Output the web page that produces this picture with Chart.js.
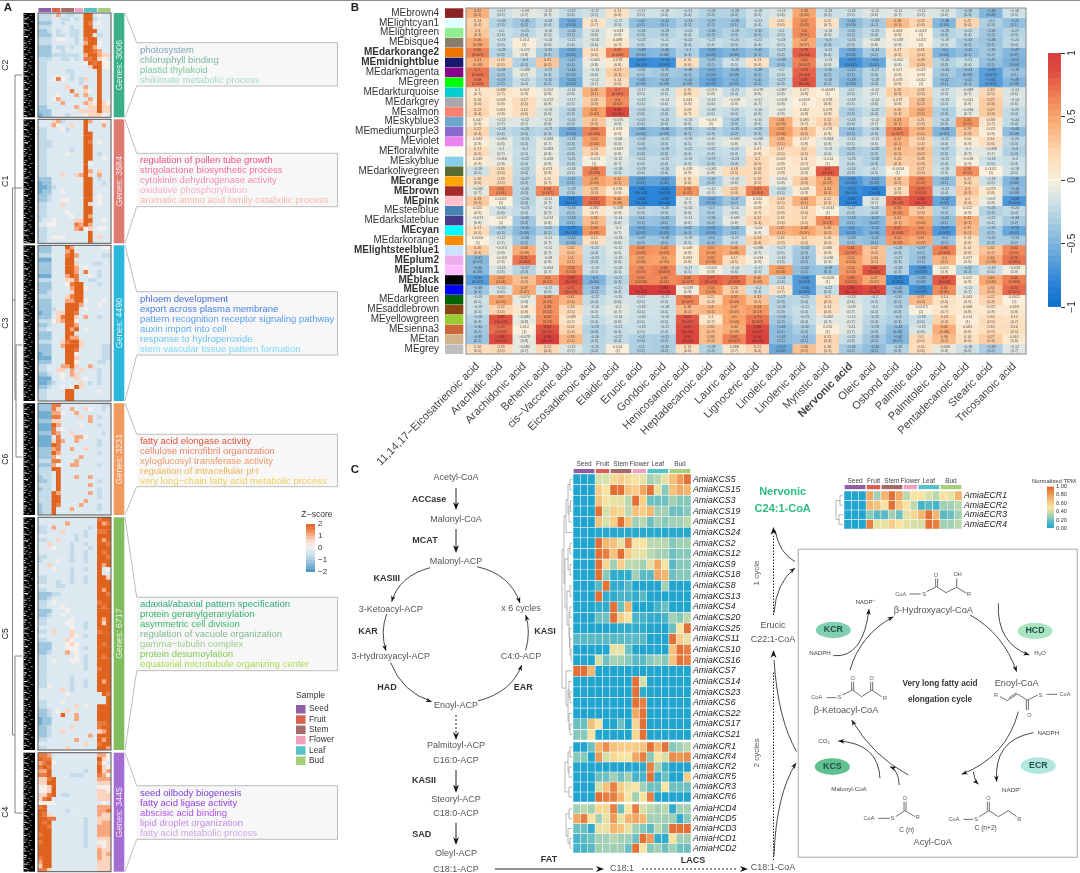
<!DOCTYPE html>
<html>
<head>
<meta charset="utf-8">
<title>Nervonic acid biosynthesis figure</title>
<script src="https://cdn.jsdelivr.net/npm/chart.js@4"></script>
<style>
  html, body { margin: 0; padding: 0; background: #fff; }
  #page { position: relative; width: 1080px; height: 873px; overflow: hidden; filter: blur(0.35px); }
  #page canvas { position: absolute; }
</style>
</head>
<body>
<div id="page"></div>
<script>
const FONT = "'Liberation Sans', Arial, sans-serif";

// ---- panel B data ----
const moduleNames = ["MEbrown4","MElightcyan1","MElightgreen","MEbisque4","MEdarkorange2","MEmidnightblue","MEdarkmagenta","MEgreen","MEdarkturquoise","MEdarkgrey","MEsalmon","MEskyblue3","MEmediumpurple3","MEviolet","MEfloralwhite","MEskyblue","MEdarkolivegreen","MEorange","MEbrown","MEpink","MEsteelblue","MEdarkslateblue","MEcyan","MEdarkorange","MElightsteelblue1","MEplum2","MEplum1","MEblack","MEblue","MEdarkgreen","MEsaddlebrown","MEyellowgreen","MEsienna3","MEtan","MEgrey"];
const moduleColors = ["#8b2323","#e0ffff","#90ee90","#8b7d6b","#ee7600","#191970","#8b008b","#00ff00","#00ced1","#a9a9a9","#fa8072","#6ca6cd","#8968cd","#ee82ee","#fffaf0","#87ceeb","#556b2f","#ffa500","#a52a2a","#ffc0cb","#4682b4","#483d8b","#00ffff","#ff8c00","#cae1ff","#eeaeee","#ffbbff","#000000","#0000ff","#006400","#8b4513","#9acd32","#cd6839","#d2b48c","#bebebe"];
const boldModules = ["MEdarkorange2","MEmidnightblue","MEorange","MEbrown","MEpink","MEcyan","MElightsteelblue1","MEplum2","MEplum1","MEblack","MEblue"];
const acidNames = ["11,14,17\u2212Eicosatrienoic acid","Arachidic acid","Arachidonic acid","Behenic acid","cis\u2212Vaccenic acid","Eicosadienoic acid","Elaidic acid","Erucic acid","Gondoic acid","Henicosanoic acid","Heptadecanoic acid","Lauric acid","Lignoceric acid","Linoleic acid","Linolenic acid","Myristic acid","Nervonic acid","Oleic acid","Osbond acid","Palmitic acid","Palmitoleic acid","Pentadecanoic acid","Stearic acid","Tricosanoic acid"];
const corrValues = [
  [0.42,-0.17,-0.09,-0.12,-0.22,-0.17,0.13,-0.17,-0.18,-0.21,-0.28,-0.28,-0.18,-0.13,0.48,-0.19,-0.18,-0.12,-0.11,-0.12,-0.13,-0.28,-0.48,-0.18],
  [0.24,-0.28,-0.36,-0.24,-0.55,0.11,-0.17,-0.42,-0.42,-0.33,-0.37,-0.38,-0.21,0.15,0.57,0.11,-0.44,-0.33,0.38,0.23,-0.48,0.22,-0.3,-0.41],
  [0.3,-0.2,-0.25,-0.16,-0.34,-0.13,-0.033,-0.28,-0.28,-0.23,-0.36,-0.28,-0.32,-0.2,0.6,-0.13,-0.31,-0.23,0.063,0.0023,-0.28,-0.22,-0.36,-0.27],
  [0.46,-0.19,0.014,-0.14,-0.21,-0.14,0.089,-0.23,-0.21,-0.24,-0.21,-0.25,-0.21,-0.18,0.47,-0.3,-0.26,-0.088,-0.039,0.013,-0.18,-0.33,-0.38,-0.24],
  [0.66,-0.28,-0.072,-0.32,-0.55,0.14,0.66,-0.48,-0.46,-0.3,-0.55,-0.5,-0.42,-0.27,0.78,-0.22,-0.54,-0.34,0.17,0.24,-0.5,-0.42,-0.36,-0.47],
  [0.43,0.19,-0.3,0.31,-0.42,-0.061,0.078,-0.76,-0.74,0.15,-0.37,-0.18,0.13,-0.38,0.65,-0.13,-0.72,-0.6,-0.052,0.28,-0.28,-0.21,-0.41,-0.51],
  [0.7,-0.33,-0.088,-0.27,-0.44,-0.13,0.27,-0.31,-0.35,-0.38,-0.52,-0.45,-0.39,-0.2,0.76,-0.35,-0.42,-0.27,0.027,0.019,-0.34,-0.43,-0.64,-0.39],
  [0.68,-0.37,-0.21,-0.31,-0.54,-0.12,0.14,-0.45,-0.43,-0.44,-0.58,-0.5,-0.41,-0.27,0.81,-0.33,-0.49,-0.28,0.079,0.012,-0.42,-0.41,-0.65,-0.48],
  [0.1,0.088,0.044,-0.052,-0.14,0.42,0.7,-0.17,-0.18,0.15,-0.074,-0.21,-0.079,-0.087,0.071,-0.00087,-0.2,-0.12,0.26,0.23,-0.17,-0.089,0.19,-0.13],
  [0.16,0.059,0.17,-0.072,-0.17,0.26,0.6,-0.19,-0.14,0.043,-0.13,-0.049,-0.11,-0.058,0.0059,0.078,-0.18,-0.14,0.079,0.33,-0.19,-0.041,0.27,-0.14],
  [0.22,0.061,0.15,-0.13,-0.26,0.51,0.86,-0.25,-0.24,0.09,-0.18,-0.21,-0.16,-0.07,0.062,0.079,-0.3,-0.22,0.26,0.42,-0.3,-0.094,0.27,-0.22],
  [0.047,-0.12,-0.12,-0.13,-0.25,0.3,-0.075,-0.25,-0.24,-0.15,-0.015,-0.28,-0.15,0.44,0.095,0.22,-0.23,-0.12,0.43,0.25,-0.26,0.56,0.092,-0.24],
  [0.22,-0.24,-0.28,-0.27,-0.55,0.64,0.019,-0.46,-0.44,-0.33,-0.28,-0.35,-0.28,0.52,0.31,0.078,-0.4,-0.26,0.64,0.39,-0.49,0.29,0.022,-0.44],
  [0.033,-0.084,-0.23,-0.084,-0.28,0.52,-0.08,-0.26,-0.25,-0.19,-0.15,-0.083,-0.096,0.36,0.057,-0.084,-0.18,-0.13,0.41,0.23,-0.22,0.04,0.14,-0.25],
  [0.17,-0.1,-0.2,-0.083,-0.27,0.23,-0.067,-0.29,-0.28,-0.22,-0.22,-0.21,0.07,0.17,0.2,-0.13,-0.31,-0.28,0.34,0.32,-0.27,-0.1,-0.098,-0.3],
  [0.039,-0.066,-0.22,-0.058,-0.25,-0.013,-0.12,-0.22,-0.23,-0.19,-0.27,-0.23,0.2,0.062,0.11,-0.014,-0.23,-0.28,0.26,0.28,-0.23,-0.018,-0.18,-0.2],
  [-0.18,0.16,-0.23,0.073,-0.18,0.64,-0.18,-0.23,-0.24,0.028,-0.081,0.18,0.18,0.071,0.049,0.8,-0.24,-0.2,-0.0054,0.27,-0.18,0.58,0.0012,-0.18],
  [0.16,0.19,-0.27,0.11,-0.42,0.49,0.42,-0.61,-0.61,0.15,-0.32,-0.13,0.19,-0.054,0.26,0.46,-0.68,-0.55,0.32,0.62,-0.42,0.22,-0.18,-0.48],
  [-0.092,0.61,-0.26,0.64,-0.29,0.29,0.076,-0.8,-0.81,0.56,-0.12,0.22,0.67,-0.19,0.049,0.43,-0.75,-0.8,0.16,0.73,-0.23,0.3,0.073,-0.44],
  [0.29,0.0022,-0.26,-0.11,-0.8,0.72,0.46,-0.82,-0.81,-0.1,-0.52,-0.37,0.024,0.19,0.43,0.22,-0.82,-0.12,0.75,0.84,-0.59,0.2,-0.07,-0.68],
  [0.025,-0.16,-0.23,-0.12,-0.33,0.092,-0.039,-0.25,-0.26,-0.14,-0.3,-0.15,0.09,0.15,0.18,-0.0043,-0.27,-0.25,0.56,0.29,-0.3,0.022,-0.28,-0.24],
  [-0.071,-0.007,-0.36,-0.074,-0.43,0.36,-0.14,-0.4,-0.41,-0.14,-0.34,-0.081,0.22,0.16,0.2,0.6,-0.43,-0.47,0.41,0.5,-0.42,0.42,-0.22,-0.34],
  [0.17,-0.29,-0.46,-0.32,-0.77,0.56,-0.1,-0.55,-0.55,-0.42,-0.55,-0.41,-0.04,0.42,0.48,0.36,-0.6,-0.52,0.67,0.6,-0.67,0.37,-0.33,-0.58],
  [0.0004,-0.12,-0.36,-0.11,-0.44,0.15,-0.13,-0.37,-0.38,-0.19,-0.4,-0.21,0.24,0.16,0.2,0.16,-0.39,-0.42,0.54,0.47,-0.4,0.13,-0.32,-0.33],
  [0.26,-0.074,0.44,-0.11,0.32,-0.21,-0.12,0.58,0.55,0.049,0.52,0.46,-0.098,-0.17,-0.34,0.086,0.64,0.32,-0.28,-0.37,0.66,0.14,0.32,0.62],
  [-0.47,-0.033,0.71,-0.08,0.4,-0.23,-0.15,0.52,0.5,0.063,0.55,0.17,-0.034,-0.16,-0.37,-0.036,0.51,0.34,-0.27,-0.39,0.4,0.027,0.44,0.71],
  [-0.46,-0.13,-0.27,-0.094,0.59,-0.19,-0.16,0.6,0.65,-0.17,-0.033,-0.14,-0.17,0.52,-0.42,-0.39,0.54,0.82,-0.29,-0.68,0.021,-0.32,-0.19,-0.033],
  [-0.65,0.52,0.34,0.6,0.83,-0.5,-0.27,0.63,0.62,0.65,0.77,0.72,0.46,-0.24,-0.66,-0.0028,0.66,0.47,-0.79,-0.48,0.8,0.022,0.46,0.66],
  [-0.38,-0.15,0.47,-0.17,0.75,-0.38,-0.21,1,0.99,-0.039,0.56,0.26,-0.2,0.11,-0.66,-0.22,0.96,0.87,-0.44,-0.73,0.61,-0.11,0.34,0.74],
  [-0.18,0.5,-0.074,0.58,0.41,-0.22,-0.15,-0.17,-0.17,0.64,0.21,0.52,0.33,-0.27,-0.25,0.2,-0.13,-0.2,-0.31,0.37,0.14,0.043,0.22,0.0022],
  [-0.19,0.22,0.08,0.58,0.19,-0.16,-0.1,-0.18,-0.18,0.38,0.4,0.47,0.54,-0.26,-0.21,0.14,-0.09,-0.2,-0.28,-0.0075,0.09,0.068,0.072,0.059],
  [-0.28,0.83,-0.083,0.62,0.099,-0.21,-0.14,-0.19,-0.19,0.81,0.1,0.5,0.71,-0.34,-0.23,-0.092,-0.12,-0.25,-0.3,-0.19,0.24,0.014,0.16,0.12],
  [-0.34,0.73,0.012,0.83,0.22,-0.29,-0.21,-0.19,-0.21,0.87,0.35,0.44,0.88,-0.43,-0.32,0.016,-0.11,-0.29,-0.44,-0.13,0.45,0.081,0.16,0.16],
  [-0.39,0.86,-0.079,0.96,0.39,-0.26,-0.22,-0.3,-0.31,0.91,0.36,0.65,0.94,-0.43,-0.4,0.21,-0.21,-0.36,-0.48,0.2,0.36,0.14,0.27,0.061],
  [0.16,0.19,-0.082,0.21,-0.12,-0.25,0.014,-0.3,-0.31,0.13,-0.28,0.088,0.21,-0.57,0.34,0.18,-0.34,-0.43,-0.28,0.16,-0.066,-0.18,-0.33,-0.12]
];
const corrPvals = [
  "0.1 0.5 0.7 0.7 0.4 0.5 0.6 0.5 0.5 0.4 0.3 0.3 0.5 0.6 0.05 0.5 0.5 0.6 0.7 0.7 0.6 0.3 0.06 0.5",
  "0.4 0.3 0.2 0.4 0.03 0.7 0.5 0.1 0.1 0.2 0.2 0.1 0.4 0.6 0.02 0.7 0.09 0.2 0.1 0.4 0.06 0.4 0.3 0.1",
  "0.3 0.4 0.4 0.5 0.2 0.6 0.9 0.3 0.3 0.4 0.2 0.3 0.2 0.5 0.01 0.6 0.2 0.4 0.8 1 0.3 0.4 0.2 0.3",
  "0.08 0.5 1 0.6 0.4 0.6 0.7 0.4 0.4 0.4 0.4 0.3 0.4 0.5 0.07 0.3 0.3 0.8 0.9 1 0.5 0.2 0.1 0.4",
  "0.005 0.3 0.8 0.2 0.02 0.6 0.004 0.06 0.06 0.3 0.02 0.05 0.1 0.3 4e-04 0.4 0.03 0.2 0.5 0.4 0.05 0.1 0.2 0.07",
  "0.08 0.5 0.3 0.2 0.1 0.8 0.8 7e-04 0.001 0.6 0.2 0.5 0.6 0.3 0.007 0.6 0.002 0.01 0.8 0.3 0.3 0.4 0.1 0.04",
  "0.003 0.2 0.7 0.3 0.09 0.6 0.3 0.2 0.2 0.1 0.04 0.09 0.1 0.4 7e-04 0.2 0.1 0.3 0.9 0.9 0.2 0.09 0.007 0.1",
  "0.003 0.2 0.4 0.2 0.03 0.7 0.6 0.08 0.09 0.09 0.02 0.05 0.1 0.3 9e-05 0.2 0.05 0.3 0.8 1 0.1 0.1 0.005 0.06",
  "0.7 0.7 0.9 0.8 0.6 0.1 0.002 0.5 0.5 0.6 0.8 0.4 0.8 0.8 0.8 1 0.5 0.7 0.3 0.4 0.5 0.7 0.5 0.6",
  "0.6 0.8 0.5 0.8 0.5 0.3 0.02 0.5 0.6 0.9 0.6 0.9 0.7 0.8 1 0.8 0.5 0.6 0.8 0.2 0.5 0.9 0.3 0.6",
  "0.4 0.8 0.6 0.6 0.3 0.04 3e-05 0.4 0.4 0.7 0.5 0.4 0.6 0.8 0.8 0.8 0.3 0.4 0.3 0.1 0.3 0.7 0.3 0.4",
  "0.9 0.7 0.7 0.6 0.3 0.3 0.8 0.4 0.4 0.6 1 0.3 0.6 0.09 0.7 0.4 0.4 0.7 0.1 0.3 0.3 0.02 0.7 0.4",
  "0.4 0.4 0.3 0.3 0.02 0.006 0.9 0.06 0.09 0.2 0.3 0.2 0.3 0.04 0.2 0.8 0.1 0.3 0.007 0.1 0.07 0.3 0.9 0.08",
  "0.9 0.8 0.4 0.7 0.3 0.04 0.8 0.3 0.3 0.5 0.6 0.8 0.7 0.1 0.8 0.8 0.5 0.6 0.1 0.4 0.4 0.9 0.6 0.3",
  "0.5 0.7 0.5 0.8 0.3 0.4 0.8 0.3 0.3 0.4 0.4 0.4 0.8 0.5 0.5 0.6 0.2 0.3 0.2 0.2 0.3 0.7 0.7 0.3",
  "0.9 0.8 0.4 0.8 0.3 1 0.7 0.4 0.4 0.5 0.3 0.4 0.5 0.8 0.7 1 0.4 0.3 0.3 0.3 0.4 0.9 0.5 0.4",
  "0.5 0.6 0.4 0.8 0.5 0.008 0.5 0.4 0.4 0.9 0.8 0.5 0.6 0.8 0.9 2e-04 0.4 0.5 1 0.3 0.5 0.02 1 0.5",
  "0.6 0.5 0.3 0.7 0.1 0.05 0.1 0.01 0.01 0.6 0.2 0.6 0.5 0.8 0.3 0.07 0.006 0.03 0.2 0.01 0.1 0.4 0.5 0.06",
  "0.7 0.01 0.3 0.007 0.3 0.3 0.8 2e-04 1e-04 0.02 0.7 0.4 0.004 0.5 0.9 0.1 9e-04 2e-04 0.5 0.001 0.4 0.3 0.8 0.09",
  "0.3 1 0.3 0.7 2e-04 0.002 0.08 1e-04 1e-04 0.7 0.04 0.2 0.9 0.5 0.1 0.4 1e-04 0.7 8e-04 3e-05 0.02 0.4 0.8 0.004",
  "0.9 0.6 0.4 0.7 0.2 0.7 0.9 0.3 0.3 0.6 0.3 0.6 0.7 0.6 0.5 1 0.3 0.3 0.02 0.3 0.3 0.9 0.3 0.4",
  "0.8 1 0.2 0.8 0.1 0.2 0.6 0.1 0.1 0.6 0.2 0.8 0.4 0.6 0.5 0.01 0.1 0.07 0.1 0.05 0.1 0.1 0.4 0.2",
  "0.5 0.3 0.08 0.2 3e-04 0.03 0.7 0.02 0.02 0.1 0.03 0.1 0.9 0.1 0.07 0.2 0.01 0.04 0.004 0.01 0.005 0.2 0.2 0.02",
  "1 0.7 0.2 0.7 0.09 0.6 0.6 0.2 0.1 0.5 0.1 0.4 0.4 0.5 0.5 0.5 0.1 0.1 0.03 0.07 0.1 0.6 0.2 0.2",
  "0.3 0.8 0.09 0.7 0.2 0.4 0.6 0.02 0.03 0.8 0.04 0.06 0.7 0.5 0.2 0.8 0.007 0.2 0.3 0.2 0.005 0.6 0.2 0.01",
  "0.07 0.9 0.002 0.8 0.1 0.4 0.6 0.04 0.05 0.8 0.03 0.5 0.9 0.6 0.2 0.9 0.04 0.2 0.3 0.1 0.1 0.9 0.09 0.002",
  "0.08 0.6 0.3 0.7 0.02 0.5 0.5 0.01 0.007 0.5 0.9 0.6 0.5 0.04 0.1 0.1 0.03 3e-05 0.3 0.003 0.9 0.2 0.5 0.9",
  "0.007 0.04 0.2 0.01 3e-05 0.05 0.3 0.009 0.01 0.007 5e-04 0.002 0.06 0.4 0.003 1 0.005 0.07 0.001 0.06 3e-04 0.9 0.06 0.004",
  "0.1 0.6 0.07 0.5 5e-04 0.2 0.4 1e-15 2e-13 0.9 0.03 0.3 0.4 0.7 0.005 0.4 4e-12 3e-05 0.09 0.001 0.01 0.7 0.2 0.001",
  "0.5 0.05 0.8 0.02 0.1 0.4 0.6 0.5 0.5 0.007 0.4 0.04 0.2 0.3 0.4 0.5 0.6 0.5 0.2 0.2 0.6 0.9 0.4 1",
  "0.5 0.4 0.8 0.02 0.5 0.5 0.7 0.5 0.5 0.2 0.1 0.07 0.03 0.3 0.4 0.6 0.7 0.5 0.3 1 0.7 0.8 0.8 0.8",
  "0.3 1e-05 0.8 0.01 0.7 0.4 0.6 0.5 0.5 2e-05 0.7 0.05 0.002 0.2 0.4 0.7 0.7 0.4 0.3 0.5 0.4 1 0.5 0.7",
  "0.2 0.003 1 5e-05 0.4 0.3 0.4 0.5 0.4 5e-06 0.2 0.09 1e-05 0.1 0.2 1 0.7 0.3 0.08 0.6 0.08 0.8 0.5 0.5",
  "0.1 2e-05 0.8 4e-11 0.1 0.3 0.4 0.3 0.2 1e-06 0.2 0.007 4e-08 0.1 0.1 0.4 0.4 0.2 0.07 0.5 0.2 0.6 0.3 0.8",
  "0.5 0.5 0.7 0.4 0.7 0.3 1 0.2 0.2 0.6 0.3 0.7 0.4 0.02 0.2 0.5 0.2 0.1 0.3 0.6 0.8 0.5 0.2 0.7"
];
const corrLegendLevels = [-1,-0.95,-0.9,-0.85,-0.8,-0.75,-0.7,-0.65,-0.6,-0.55,-0.5,-0.45,-0.4,-0.35,-0.3,-0.25,-0.2,-0.15,-0.1,-0.05,0,0.05,0.1,0.15,0.2,0.25,0.3,0.35,0.4,0.45,0.5,0.55,0.6,0.65,0.7,0.75,0.8,0.85,0.9,0.95];
const corrLegendTicks = [1,0.5,0,-0.5,-1];

// ---- panel A data: one string per gene band, one digit per sample column (0 = z -2, 9 = z +2) ----
const sampleColumns = ["Seed 1","Seed 2","Seed 3","Fruit 1","Fruit 2","Stem 1","Stem 2","Stem 3","Flower 1","Flower 2","Leaf 1","Leaf 2","Leaf 3","Bud 1","Bud 2","Bud 3"];
const sampleNames = ["Seed","Fruit","Stem","Flower","Leaf","Bud"];
const sampleSpans = [3,2,3,2,3,3];
const sampleColors = ["#8f5ea6","#d9604f","#a56a6a","#efa0bd","#55c2c4","#a6cf7a"];
const clusterC2 = ["3334743344994544","3334433434993444","2224434444984544","3334444344994444","2234344334999444","2224334334994344","3334554434899444","3334444434799544","2224334344997544","2224434444998744","2223333334799766","3334433434889654","3344444444598955","3344444444469955","3344443344444944","3344444344444944","3345854343644944","3344444443444944","3344446444744944","3344444844654944","3344544474744944","3345744444474944","3344474444765965","2244444474466966","2224444446666966","1224443444566654"];
const clusterC1 = ["4446734444974454","4447544644944474","3344453444944444","3344444444994444","3344444444994444","3334444444984544","3334444444994444","3344444344994444","3344445444994344","3344444444994454","3344444444954444","3344444444944444","3344444444974644","3344464467964744","2224444444994344","1224444444994434","1123444444994444","1224454444994444","2234444444994544","2234455444994544","3344464444964544","3344444444994444","3344445444994444","3344444544974444","3445444466994454","4455444487974444","3344444478564554","3344444444494444","3345554444494644","3344444444494444"];
const clusterC3 = ["2224449744444455","2224447944444444","3334448974444433","1114449944444444","2224449964443344","2224449974544444","2224449974844344","1114447984454344","3334446684433444","2224445899444344","2224444799544444","2234444699444444","3334446899444444","2224447799544454","2224449997444544","2223449994544444","1224669984444444","2224689964744344","3335679954444444","2234449974444444","3344449794544444","2224449944444444","2224449774444444","3334468996444444","2224479996444433","2224449984444433","1224449954444433","1114449964444433","2224449954444334","3344477964474444","3344664746444344","2234454764444344","1114454464544344","1123444446434344","2234454596444444","3344449944444544","3344449944444444","3344449944444444"];
const clusterC6 = ["2228844444444433","2228644744654434","1117754474444444","1118844446474344","2226644444474444","1119744445444344","1118454444444444","2228744644444434","1114844477544444","1116874474444344","1119844444444344","2227844744644444","2229744444444344","2227544447444444","3338844474444444","2227544774444344","3339944444444444","3334944444444444","2334944474474444","2234944444444344","3334944444474444","2334944444444344","3339744444474344","3339944444444344","3339944444744444","2339844447444344","2339444744444344","2339444444444444"];
const clusterC5 = ["4444444444444899","4444447444444978","3347444444434999","3344464444344889","4444444434344999","3344644434444979","4464444344344998","4445444344434999","4444444344344989","3344444344344998","3444544344344999","4464444444444979","4445444344344945","4444444344444944","3344444344344996","3344344344344999","4444334444444999","3344444444444979","2223344444444998","2234444444444999","3345444444444899","3344454444444989","2224445444444999","2234454444444999","3344444544444979","3344445544344969","4444444544344999","3346444644444899","4444444654344999","3344446544444999","2224445654444989","2224445554344999","2234447454444999","3344444454344989","3345444554344999","3344444444344999","3344444444344899","3344444444444999","3344444344444999","3344444344344979","3354444344344999","4444464344444999","4444445444444498","4444444444444449","3344454444444449","3344444464544999","2234546444444999","2234494474444999","1224444474444999","1224444444444889","2234444644444899","2234464444444679","2234444444474999","3344444474444979","4444444444644899","3344446444444997"];
const clusterC4 = ["8874444444444775","9884444444444965","7895444444444854","8984444444444965","7794444444344967","8894444333444875","6689444444444777","6699444444444666","5569444444444555","5569444444444665","6689433444444666","6894444444444666","5555444444444454","8944444444444777","9944443444444778","9864444444444766","9988444444344666","9894444444344677","9984444444344777","9994444444344777","8994444444344777","9994444444344666","8994444444344556","9994444444344656","9994444444444766","9994444444444767","8994444444444766","7994444444444666","6994444444444666","8864444444444666"];
const zLegendLevels = [-2,-1.75,-1.5,-1.25,-1,-0.75,-0.5,-0.25,0,0.25,0.5,0.75,1,1.25,1.5,1.75];

const goC2 = ["photosystem","chlorophyll binding","plastid thylakoid","shikimate metabolic process"];
const goC1 = ["regulation of pollen tube growth","strigolactone biosynthetic process","cytokinin dehydrogenase activity","oxidative phosphorylation","aromatic amino acid family catabolic process"];
const goC3 = ["phloem development","export across plasma membrane","pattern recognition receptor signaling pathway","auxin import into cell","response to hydroperoxide","stem vascular tissue pattern formation"];
const goC6 = ["fatty acid elongase activity","cellulose microfibril organization","xyloglucosyl transferase activity","regulation of intracellular pH","very long\u2212chain fatty acid metabolic process"];
const goC5 = ["adaxial/abaxial pattern specification","protein geranylgeranylation","asymmetric cell division","regulation of vacuole organization","gamma\u2212tubulin complex","protein desumoylation","equatorial microtubule organizing center"];
const goC4 = ["seed oilbody biogenesis","fatty acid ligase activity","abscisic acid binding","lipid droplet organization","fatty acid metabolic process"];

// ---- panel C data: normalized TPM per gene ----
const kcsGenes = ["AmiaKCS5","AmiaKCS15","AmiaKCS3","AmiaKCS19","AmiaKCS1","AmiaKCS24","AmiaKCS2","AmiaKCS12","AmiaKCS9","AmiaKCS18","AmiaKCS8","AmiaKCS13","AmiaKCS4","AmiaKCS20","AmiaKCS25","AmiaKCS11","AmiaKCS10","AmiaKCS16","AmiaKCS7","AmiaKCS14","AmiaKCS23","AmiaKCS6","AmiaKCS22","AmiaKCS17","AmiaKCS21"];
const kcsValues = [
  [0,0,0,.4,.4,.55,.6,.55,.5,.45,.3,.35,.45,.65,.8,.95],
  [0,0,0,.6,.5,.95,.95,.65,.6,.75,.95,.45,.25,.65,.75,.7],
  [0,0,0,.65,.5,.45,.45,.35,.95,.6,.2,.2,.2,.3,.25,.25],
  [0,0,0,.95,.4,.6,.55,.35,.65,.6,.7,.3,.3,.2,.2,.25],
  [0,0,0,.65,.4,.6,.95,.65,.3,.35,.2,.3,.25,.3,.3,.35],
  [0,0,0,.02,.02,.02,.02,.02,.02,.02,.02,.02,.02,.02,.02,.02],
  [0,0,0,.95,.7,.65,.45,.9,.5,.5,.35,.35,.35,.25,.3,.3],
  [0,0,0,.95,.9,.65,.95,.6,.45,.45,.35,.3,.3,.2,.25,.25],
  [0,0,0,.95,.55,.3,.6,.35,.35,.3,.45,.75,.5,.15,.25,.25],
  [0,0,0,.95,.25,.05,.05,.05,.3,.15,.15,.75,.7,.2,.25,.25],
  [0,0,0,.15,.95,.05,.05,.15,0,0,0,0,.3,0,0,0],
  [0,0,0,.95,.05,.05,.1,.1,.05,.15,0,0,0,0,0,0],
  [0,0,0,.05,.05,.95,.2,.7,0,0,0,.1,.2,0,0,0],
  [0,0,0,.2,.2,.95,.6,.5,.1,.1,.05,.05,.1,.3,.25,.35],
  [0,0,0,0,0,0,.05,.05,.05,.05,0,0,0,.2,.5,.95],
  [.15,.15,.15,.15,.15,.15,.15,.15,.15,.15,0,0,0,.95,.6,.45],
  [0,0,0,0,0,.45,.45,.2,0,0,0,0,0,.65,.95,.9],
  [0,0,0,.4,.2,.3,.3,.25,.15,.15,.25,.3,.25,.65,.95,.9],
  [.95,.95,.7,0,0,0,0,0,0,0,0,0,0,0,0,0],
  [0,0,0,0,0,0,0,0,.95,.4,0,0,0,0,0,0],
  [0,0,0,0,0,0,0,0,.95,.05,0,0,0,0,0,0],
  [0,0,0,0,0,0,0,0,.95,.9,0,0,0,0,0,0],
  [0,0,0,0,0,0,0,0,.75,.95,0,0,0,0,0,0],
  [.2,.2,.65,.5,0,0,.2,0,.55,.95,0,0,0,0,0,0],
  [.25,.25,.5,0,0,0,0,0,.55,.95,0,0,0,0,0,0]
];
const kcrGenes = ["AmiaKCR1","AmiaKCR4","AmiaKCR2","AmiaKCR5","AmiaKCR3","AmiaKCR6"];
const kcrValues = [
  [0,0,.2,.7,.85,.65,.6,.6,.6,.65,.95,.7,.95,.25,.3,.35],
  [.25,.25,0,.8,.4,.55,.5,.5,.75,.9,.25,.5,.4,.85,.8,.85],
  [0,0,0,0,0,0,0,0,0,.05,.9,.3,.1,0,0,0],
  [0,0,0,.2,.2,.3,.2,.3,.1,.1,.95,.05,.2,0,0,.6],
  [0,0,0,.4,.65,.9,.6,.45,.5,.3,.2,.2,.5,.2,.2,.2],
  [0,0,0,.95,.9,.9,.7,.5,.3,.5,.9,0,0,0,0,0]
];
const hcdGenes = ["AmiaHCD4","AmiaHCD5","AmiaHCD3","AmiaHCD1","AmiaHCD2"];
const hcdValues = [
  [.3,.35,.3,.55,.55,.9,.2,.5,.9,.4,.35,.3,.35,.05,.3,.3],
  [.75,.9,.5,.3,.45,.8,.45,.7,.75,.7,.3,.3,.3,.3,.05,.25],
  [.2,.2,.05,.45,.45,.7,.65,.45,.3,.25,.15,.35,.25,.95,.95,.95],
  [.1,.15,.2,.3,.3,.35,.3,.3,.2,.95,.8,.05,.05,.5,.3,.3],
  [.1,.1,.15,.3,.3,.3,.3,.2,.95,.5,.25,.3,.2,.3,.2,.2]
];
const ecrGenes = ["AmiaECR1","AmiaECR2","AmiaECR3","AmiaECR4"];
const ecrValues = [
  [0,0,0,.75,.3,.7,.95,.75,.35,.5,.5,.4,.35,.5,.45,.7],
  [0,0,0,.7,.65,.5,.95,.65,.5,.35,.1,.15,.1,.3,.3,.35],
  [0,0,0,.25,.15,.15,.3,.2,.45,.55,.7,.95,.7,.15,.2,.3],
  [0,0,0,.9,.45,.45,.6,.5,.45,.4,.4,.95,.9,.3,.3,.35]
];
const tpmLegendLevels = [0,.05,.1,.15,.2,.25,.3,.35,.4,.45,.5,.55,.6,.65,.7,.75,.8,.85,.9,.95];
const tpmLegendTicks = ["0.00","0.20","0.40","0.60","0.80","1.00"];

// ---- colour scales ----
function hex(c) { return [1, 3, 5].map(i => parseInt(c.slice(i, i + 2), 16)); }
function ramp(stops) {
  return v => {
    if (v <= stops[0][0]) return stops[0][1];
    for (let i = 1; i < stops.length; i++) {
      if (v <= stops[i][0]) {
        const t = (v - stops[i - 1][0]) / (stops[i][0] - stops[i - 1][0]);
        const a = hex(stops[i - 1][1]), b = hex(stops[i][1]);
        return `rgb(${a.map((x, k) => Math.round(x + (b[k] - x) * t)).join(",")})`;
      }
    }
    return stops[stops.length - 1][1];
  };
}
const corrColor = ramp([[-1, "#0a6fcb"], [-0.8, "#2e86d8"], [-0.5, "#7fb4dc"], [-0.2, "#c9dfe6"], [0, "#faf0dc"], [0.2, "#fdd9b5"], [0.5, "#f8a36a"], [0.66, "#ee8055"], [0.86, "#dd4a3f"], [1, "#d73c3c"]]);
const zColor = ramp([[-2, "#3d8dbd"], [-1.56, "#6fadd1"], [-1.11, "#9dc6de"], [-0.67, "#c3dbe9"], [-0.22, "#dde9f1"], [0.22, "#f5efec"], [0.67, "#fbd3be"], [1.11, "#f7a67e"], [1.56, "#ea7a42"], [2, "#df621d"]]);
const tpmColor = ramp([[0, "#1fa5d0"], [0.2, "#6cc0c0"], [0.4, "#d5dfa8"], [0.5, "#f8e4a0"], [0.7, "#f5b56d"], [1, "#e2622a"]]);

// ---- chart helpers ----
const page = document.getElementById("page");
function addCanvas(x, y, w, h) {
  const c = document.createElement("canvas");
  c.width = w; c.height = h;
  c.style.left = x + "px"; c.style.top = y + "px";
  c.style.width = w + "px"; c.style.height = h + "px";
  page.appendChild(c);
  return c;
}

const baseOptions = {
  responsive: false, animation: false, events: [],
  plugins: { legend: { display: false }, tooltip: { enabled: false } }
};

// a heatmap: one floating-bar dataset per row, all overlaid on the same category axis
function rowDatasets(rows, toColor, border) {
  return rows.map((row, i) => ({
    data: row.map(() => [i, i + 1]),
    backgroundColor: row.map(toColor),
    borderColor: border || row.map(toColor),
    borderWidth: border ? 0.6 : 0.5,
    borderSkipped: false,
    barPercentage: 1, categoryPercentage: 1, grouped: false
  }));
}

function centeredTicks(labels) {
  return scale => { scale.ticks = labels.map((_, i) => ({ value: i + 0.5 })); };
}

// axis width is forced and the label overhang dropped, so the plot keeps its exact box
function fixWidth(w) {
  return s => { s.width = w; s.paddingTop = 0; s.paddingBottom = 0; };
}

function heat(x, y, w, h, columns, rows, toColor, border, rowLabels) {
  const axisW = rowLabels ? 62 : 0;
  return new Chart(addCanvas(x, y, w + axisW, h), {
    type: "bar",
    data: { labels: columns, datasets: rowDatasets(rows, toColor, border) },
    options: {
      ...baseOptions,
      scales: {
        x: { display: false },
        y: {
          display: !!rowLabels, position: "right", reverse: true, min: 0, max: rows.length,
          grid: { display: false, drawTicks: false }, border: { display: false },
          afterBuildTicks: rowLabels ? centeredTicks(rowLabels) : undefined,
          afterFit: fixWidth(axisW),
          ticks: {
            autoSkip: false, padding: 2, color: "#222",
            font: { family: FONT, size: 8.7, style: "italic" },
            callback: v => rowLabels ? rowLabels[v - 0.5] : ""
          }
        }
      }
    }
  });
}

// a legend bar: stacked colour steps on a real value axis
function legendBar(x, y, w, h, levels, step, toColor, lo, hi, tickOpts, plugin) {
  return new Chart(addCanvas(x, y, w, h), {
    type: "bar",
    data: {
      labels: [""],
      datasets: levels.map(v => ({
        data: [[v, v + step]], backgroundColor: toColor(v + step / 2), borderColor: toColor(v + step / 2),
        borderWidth: 0.5, borderSkipped: false, barPercentage: 1, categoryPercentage: 1, grouped: false
      }))
    },
    options: {
      ...baseOptions,
      layout: { padding: { top: tickOpts.padY, bottom: tickOpts.padY } },
      scales: {
        x: { display: false },
        y: {
          position: "right", min: lo, max: hi,
          border: { display: false },
          grid: { drawOnChartArea: false, drawTicks: !!tickOpts.marks, tickLength: tickOpts.marks || 0, color: "#333" },
          afterFit: fixWidth(tickOpts.axisW),
          afterBuildTicks: s => { s.ticks = tickOpts.values.map(value => ({ value })); },
          ticks: {
            autoSkip: false, padding: tickOpts.pad || 1, color: "#333",
            font: { family: FONT, size: tickOpts.size },
            callback: tickOpts.label
          }
        }
      }
    },
    plugins: plugin ? [plugin] : []
  });
}

// ---- panel B chart ----
const heatB_X = 466, heatB_Y = 8, heatB_W = 560, heatB_H = 346;
const cellTextPlugin = {
  id: "cellText",
  afterDatasetsDraw(chart) {
    const { ctx, chartArea: a, scales: { x, y } } = chart;
    ctx.save();
    // module colour swatches sit left of the cells, on the same row scale
    moduleColors.forEach((col, i) => {
      const t = y.getPixelForValue(i), b = y.getPixelForValue(i + 1);
      ctx.fillStyle = col;
      ctx.fillRect(a.left - 21, t + 0.3, 18.3, b - t - 0.3);
    });
    ctx.textAlign = "center"; ctx.textBaseline = "middle";
    ctx.fillStyle = "rgba(45,40,40,0.8)";
    ctx.font = `3.7px ${FONT}`;
    corrValues.forEach((row, i) => {
      const ps = corrPvals[i].split(" ");
      const yc = y.getPixelForValue(i + 0.5);
      row.forEach((v, j) => {
        const xc = x.getPixelForValue(j);
        ctx.fillText(String(v).replace("-", "\u2212"), xc, yc - 2.2);
        ctx.fillText(`(${ps[j]})`, xc, yc + 2.3);
      });
    });
    ctx.strokeStyle = "#8a8a8a"; ctx.lineWidth = 1;
    ctx.strokeRect(a.left, a.top, a.right - a.left, a.bottom - a.top);
    ctx.restore();
  }
};
new Chart(addCanvas(350, 0, 676 + 4, 474), {
  type: "bar",
  data: { labels: acidNames, datasets: rowDatasets(corrValues, corrColor) },
  options: {
    ...baseOptions,
    layout: { padding: { top: heatB_Y, right: 4 } },
    scales: {
      x: {
        grid: { display: false, drawTicks: false }, border: { display: false },
        afterFit: s => { s.height = 474 - heatB_Y - heatB_H; s.paddingLeft = 0; s.paddingRight = 0; },
        ticks: {
          autoSkip: false, minRotation: 45, maxRotation: 45, padding: 6, color: "#444",
          font: c => ({ family: FONT, size: 11, weight: acidNames[c.index] === "Nervonic acid" ? "bold" : "normal" })
        }
      },
      y: {
        reverse: true, min: 0, max: moduleNames.length,
        grid: { display: false, drawTicks: false }, border: { display: false },
        afterBuildTicks: centeredTicks(moduleNames),
        afterFit: fixWidth(heatB_X - 350),
        ticks: {
          autoSkip: false, padding: 27, color: "#333",
          font: c => ({ family: FONT, size: 10, weight: boldModules.includes(moduleNames[c.index]) ? "bold" : "normal" }),
          callback: v => moduleNames[v - 0.5]
        }
      }
    }
  },
  plugins: [cellTextPlugin]
});

// correlation colour bar, its tick labels stand rotated
legendBar(1048, 46, 28, 268, corrLegendLevels, 0.05, corrColor, -1, 1, {
  padY: 7, axisW: 15, marks: 4, size: 9, values: corrLegendTicks, label: () => ""
}, {
  id: "cbLabels",
  afterDraw(chart) {
    const { ctx, scales: { y }, chartArea: a } = chart;
    ctx.save();
    ctx.fillStyle = "#333"; ctx.font = `10px ${FONT}`; ctx.textAlign = "center"; ctx.textBaseline = "middle";
    corrLegendTicks.forEach(v => {
      ctx.save();
      ctx.translate(a.right + 11, y.getPixelForValue(v));
      ctx.rotate(-Math.PI / 2);
      ctx.fillText(String(v).replace("-", "\u2212"), 0, 0);
      ctx.restore();
    });
    ctx.restore();
  }
});

// ---- panel A charts ----
const digits = rows => rows.map(r => r.split("").map(d => Number(d) * 4 / 9 - 2));
const clusterBoxes = [
  { name: "C2", rows: clusterC2, top: 13, bottom: 117.3, genes: 3006, band: "#3aaf8a", boxTop: 42.7, boxBot: 86, terms: goC2, termCols: ["#7aa5b5", "#7bb5a8", "#7fcba0", "#a5dcc0"] },
  { name: "C1", rows: clusterC1, top: 119.3, bottom: 243.3, genes: 3584, band: "#de7b73", boxTop: 153.3, boxBot: 206.7, terms: goC1, termCols: ["#ee4f80", "#f56ea3", "#f58db8", "#f7b4c0", "#f7b9a8"] },
  { name: "C3", rows: clusterC3, top: 245.3, bottom: 401, genes: 4490, band: "#2ab7d8", boxTop: 291.7, boxBot: 355, terms: goC3, termCols: ["#4a6fd8", "#4a80e8", "#5a9df0", "#5fb0f5", "#6cc5f5", "#7fd8f5"] },
  { name: "C6", rows: clusterC6, top: 403.3, bottom: 515, genes: 3231, band: "#f09a5f", boxTop: 434.3, boxBot: 486.7, terms: goC6, termCols: ["#e0503a", "#ee8566", "#ef9a6a", "#eeb555", "#f0cf5a"] },
  { name: "C5", rows: clusterC5, top: 517.3, bottom: 750, genes: 6717, band: "#7fbd5f", boxTop: 597.3, boxBot: 670.7, terms: goC5, termCols: ["#2fa880", "#35b070", "#3ab870", "#80b890", "#9ccc90", "#80cc50", "#a8dc50"] },
  { name: "C4", rows: clusterC4, top: 752.7, bottom: 871.7, genes: 3445, band: "#a56cd1", boxTop: 785.7, boxBot: 839.3, terms: goC4, termCols: ["#7a3fd8", "#9a3fe0", "#b04fe8", "#c88ae8", "#d0a8ec"] }
];
clusterBoxes.forEach(c => {
  heat(38, Math.round(c.top), 73, Math.round(c.bottom - c.top), sampleColumns, digits(c.rows), zColor);
});

// z-score legend and TPM legend
legendBar(306, 519, 24, 58, zLegendLevels, 0.25, zColor, -2, 2, {
  padY: 5, axisW: 15, size: 8, pad: 3, values: [2, 1, 0, -1, -2], label: v => String(v).replace("-", "\u2212")
});
legendBar(1047, 482, 30, 51, tpmLegendLevels, 0.05, tpmColor, 0, 1, {
  padY: 4.5, axisW: 23, size: 5.6, pad: 2, values: tpmLegendTicks.map(Number), label: v => v.toFixed(2)
});

// ---- panel C heatmaps ----
heat(573, 474, 118, 266, sampleColumns, kcsValues, tpmColor, "#f2f6f2", kcsGenes);
heat(573, 742, 118, 60, sampleColumns, kcrValues, tpmColor, "#f2f6f2", kcrGenes);
heat(573, 804, 118, 49, sampleColumns, hcdValues, tpmColor, "#f2f6f2", hcdGenes);
heat(844, 491, 118, 38, sampleColumns, ecrValues, tpmColor, "#f2f6f2", ecrGenes);

// ---- everything that is not data: panel letters, GO boxes, pathway diagrams ----
const fringe = [6, 2, 9, 4, 7, 1, 5, 8, 3, 6, 10, 2, 4, 7, 3, 9, 5, 1, 8, 4, 6, 2, 7, 5];

function drawOverlay(ctx) {
  const txt = (s, x, y, o = {}) => {
    ctx.save();
    ctx.fillStyle = o.color || "#444";
    ctx.font = `${o.italic ? "italic " : ""}${o.bold ? "bold " : ""}${o.size || 8.6}px ${FONT}`;
    ctx.textAlign = o.align || "center"; ctx.textBaseline = "middle";
    ctx.translate(x, y);
    if (o.rot) ctx.rotate(o.rot);
    ctx.fillText(s, 0, 0);
    ctx.restore();
  };
  const poly = (pts, color = "#555", width = 0.8, dash) => {
    ctx.save();
    ctx.strokeStyle = color; ctx.lineWidth = width;
    if (dash) ctx.setLineDash(dash);
    ctx.beginPath();
    pts.forEach((p, i) => i ? ctx.lineTo(p[0], p[1]) : ctx.moveTo(p[0], p[1]));
    ctx.stroke();
    ctx.restore();
  };
  const head = (x, y, ang, len = 8, wid = 3) => {
    ctx.save();
    ctx.translate(x, y); ctx.rotate(ang);
    ctx.fillStyle = "#111";
    ctx.beginPath();
    ctx.moveTo(0, 0); ctx.lineTo(-len, -wid); ctx.lineTo(-len * 0.7, 0); ctx.lineTo(-len, wid);
    ctx.closePath(); ctx.fill();
    ctx.restore();
  };
  const straight = (x1, y1, x2, y2, dash) => {
    poly([[x1, y1], [x2 - (x2 - x1) * 0.1, y2 - (y2 - y1) * 0.1]], "#222", 1, dash);
    head(x2, y2, Math.atan2(y2 - y1, x2 - x1));
  };
  const curve = (x1, y1, cx, cy, x2, y2, small) => {
    ctx.save();
    ctx.strokeStyle = "#333"; ctx.lineWidth = 0.9;
    ctx.beginPath(); ctx.moveTo(x1, y1); ctx.quadraticCurveTo(cx, cy, x2, y2); ctx.stroke();
    ctx.restore();
    if (small !== null) head(x2, y2, Math.atan2(y2 - cy, x2 - cx), small || 6, 2.3);
  };

  // top rule and panel letters
  ctx.fillStyle = "#8c8c8c"; ctx.fillRect(0, 0, 1080, 1);
  txt("A", 8, 8, { bold: true, size: 11.5, color: "#222" });
  txt("B", 355, 8, { bold: true, size: 11.5, color: "#222" });
  txt("C", 355, 470, { bold: true, size: 11.5, color: "#222" });

  // panel A: sample strip
  let col = 0;
  sampleNames.forEach((s, i) => {
    const a = 38 + col * 73 / 16, b = 38 + (col + sampleSpans[i]) * 73 / 16;
    ctx.fillStyle = sampleColors[i];
    ctx.fillRect(a + 0.4, 8, b - a - 0.8, 4);
    col += sampleSpans[i];
  });

  // panel A: row tree, clusters, gene bands and GO callouts
  [[15, 75, 15, 300], [15, 75, 22, 75], [12.5, 188, 12.5, 735], [12.5, 188, 22, 188], [15, 300, 12.5, 300], [16, 345, 16, 457], [16, 345, 22, 345], [16, 457, 22, 457], [15, 400, 16, 400], [15, 300, 15, 400],
   [15, 656, 15, 813], [15, 656, 22, 656], [15, 813, 22, 813], [12.5, 735, 15, 735]].forEach(l => poly([[l[0], l[1]], [l[2], l[3]]], "#666", 0.8));
  clusterBoxes.forEach(c => {
    const top = c.top, bot = c.bottom;
    ctx.fillStyle = "#000"; ctx.fillRect(23.5, top, 11.5, bot - top);
    for (let y = top + 1, k = 0; y < bot - 1; y += 2.2, k++) {
      ctx.fillStyle = k % 3 ? "#fff" : "#888";
      ctx.fillRect(23.5, y, fringe[k % 24] * 0.45, 0.9);
      ctx.fillStyle = "rgba(255,255,255,0.75)";
      ctx.fillRect(25 + fringe[(k + 7) % 24] * 0.6, y + 0.8, 1 + fringe[(k + 3) % 24] * 0.2, 0.7);
    }
    ctx.strokeStyle = "#555"; ctx.lineWidth = 1;
    ctx.strokeRect(38, top, 73, bot - top);
    ctx.fillStyle = c.band; ctx.fillRect(113.7, top, 10.6, bot - top);
    const mid = (top + bot) / 2;
    txt(`Genes: ${c.genes}`, 119.3, mid, { rot: -Math.PI / 2, color: "rgba(255,255,255,0.85)", size: 8.8 });
    txt(c.name, 5.5, mid, { rot: -Math.PI / 2, color: "#222", size: 8.8 });
    ctx.fillStyle = "#f7f7f7"; ctx.fillRect(136.7, c.boxTop, 200.8, c.boxBot - c.boxTop);
    poly([[125, top], [136.7, c.boxTop], [337.5, c.boxTop], [337.5, c.boxBot], [136.7, c.boxBot], [125, bot]], "#bdbdbd", 1);
    c.terms.forEach((t, i) => {
      txt(t, 140, c.boxTop + 7.3 + i * 10, { align: "left", size: 9.5, color: c.termCols[i] });
    });
  });

  // panel A: sample legend and z-score title
  txt("Z\u2212score", 317, 515, { size: 8.6, color: "#333" });
  txt("Sample", 296, 696, { size: 8.6, align: "left", color: "#333" });
  sampleNames.forEach((s, i) => {
    const y = 709 + i * 10.3;
    ctx.fillStyle = sampleColors[i]; ctx.fillRect(296, y - 4, 9.5, 8.5);
    txt(s, 309, y, { align: "left", size: 8.4, color: "#333" });
  });

  // panel C: fatty acid synthesis column
  const L = (s, x, y) => txt(s, x, y, { size: 9, color: "#555" });
  const E = (s, x, y) => txt(s, x, y, { size: 9, bold: true, color: "#333" });
  L("Acetyl-CoA", 456, 478); straight(456, 488, 456, 510); E("ACCase", 429, 500);
  L("Malonyl-CoA", 456, 520); straight(456, 529, 456, 553); E("MCAT", 425, 541);
  L("Malonyl-ACP", 456, 562);
  curve(430, 567.7, 399, 576, 391.7, 601.7);
  curve(386.7, 614, 380, 632, 386, 650.7);
  curve(390.7, 662.7, 402, 692, 431.7, 701.7);
  curve(478, 701, 512, 692, 521.7, 665);
  curve(525.7, 650, 531, 632, 525.7, 615);
  curve(477, 566.7, 510, 574, 520, 603);
  L("3-Ketoacyl-ACP", 390.7, 609.3); E("KASIII", 386.7, 579); E("KAR", 368, 632);
  L("3-Hydroxyacyl-ACP", 390.7, 656.7); E("HAD", 387, 687.7);
  L("x 6 cycles", 521, 609); E("KASI", 545, 632); L("C4:0-ACP", 521, 656.7); E("EAR", 523.3, 688);
  L("Enoyl-ACP", 456, 705.7);
  straight(456, 715, 456, 740, [2, 2]);
  L("Palmitoyl-ACP", 456, 745.7); L("C16:0-ACP", 456, 760.7);
  straight(456, 770, 456, 792.7); E("KASII", 424, 780.7);
  L("Steoryl-ACP", 456, 800); L("C18:0-ACP", 456, 814);
  straight(456, 822.7, 456, 845); E("SAD", 421.7, 835);
  L("Oleyl-ACP", 456, 854); L("C18:1-ACP", 456, 869.3);
  E("FAT", 549, 860); straight(495, 869, 604, 869);
  L("C18:1", 622, 869);
  straight(642, 869, 748, 869, [2, 2]); E("LACS", 693, 861);
  L("C18:1-CoA", 773, 868);

  // panel C: heatmap sample strips
  [[573, 474 - 9.5, 469], [844, 481.7, 485]].forEach(([x0, ty, by]) => {
    let c0 = 0;
    sampleNames.forEach((s, i) => {
      const a = x0 + c0 * 118 / 16, b = x0 + (c0 + sampleSpans[i]) * 118 / 16;
      ctx.fillStyle = sampleColors[i]; ctx.fillRect(a + 0.7, by, b - a - 1.4, 4.2);
      txt(s, (a + b) / 2, ty, { size: 6.5, color: "#444" });
      c0 += sampleSpans[i];
    });
  });
  txt("Normalized TPM", 1054, 481, { size: 5.9, color: "#333" });

  // panel C: gene trees, [height, left, right] with leaves as row numbers
  const tree = (t, yOf, x0, k) => {
    if (typeof t === "number") return { y: yOf(t), x: x0 };
    const a = tree(t[1], yOf, x0, k), b = tree(t[2], yOf, x0, k), x = x0 - t[0] * k;
    poly([[a.x, a.y], [x, a.y], [x, b.y], [b.x, b.y]], "#999", 0.7);
    return { y: (a.y + b.y) / 2, x };
  };
  const kcsTree = [10,
    [8, [6, [4, [2, 0, 1], [3, [1.5, 2, 3], 4]], 5], [7, [4, [2, 6, 7], [2, 8, 9]], [5, [2, 10, 11], [3, [2, 12, 13], [2.5, 14, [2, 15, [1, 16, 17]]]]]]],
    [6, 18, [4, [3, 19, [2, 20, 21]], [3, 22, [2, 23, 24]]]]];
  tree(kcsTree, r => 474 + (r + 0.5) * 266 / 25, 572, 1);
  tree([7, [4, [2, 0, 1], [3, 2, 3]], [3, 4, 5]], r => 742 + (r + 0.5) * 10, 572, 1);
  tree([6, [3, 0, 1], [4, 2, [2, 3, 4]]], r => 804 + (r + 0.5) * 9.8, 572, 1);
  tree([7, [3, 0, 1], [4, 2, 3]], r => 491 + (r + 0.5) * 9.5, 843, 1);

  // panel C: middle column to nervonic acid
  const green = "#2cbb80";
  txt("Nervonic", 782.7, 491.7, { bold: true, size: 11, color: green });
  txt("C24:1-CoA", 782.7, 509, { bold: true, size: 11, color: green });
  txt("1 cycle", 756.7, 573, { rot: -Math.PI / 2, size: 8, color: "#555" });
  txt("2 cycles", 756.7, 753, { rot: -Math.PI / 2, size: 8, color: "#555" });
  straight(773.5, 615, 773.5, 527, [1.5, 1.5]);
  curve(795, 561.7, 779, 553, 775, 530, null);
  curve(774, 613, 776, 583, 795, 568);
  L("Erucic", 773, 625.7); L("C22:1-CoA", 773, 640);
  straight(773.5, 860, 773.5, 650, [1.5, 1.5]);
  curve(796.7, 751.7, 778, 720, 774, 660, null);
  curve(774, 856, 776, 795, 796, 763);

  // elongation cycle box, coordinates below are from a 3x layout of the box
  const zx = x => 770 + x / 3, zy = y => 540 + y / 3;
  const zl = pts => poly(pts.map(p => [zx(p[0]), zy(p[1])]), "#333", 0.7);
  const zc = (a, b, c, d, e, f, s) => curve(zx(a), zy(b), zx(c), zy(d), zx(e), zy(f), s);
  const zt = (s, x, y, o) => txt(s, zx(x), zy(y), o);
  ctx.strokeStyle = "#bcbcbc"; ctx.lineWidth = 1.3;
  ctx.strokeRect(798.3, 549.3, 279, 308);
  [["KCR", 190, 270, "#7fcfb0"], ["HCD", 795, 273, "#a8e5c0"], ["KCS", 187, 680, "#5fc090"], ["ECR", 805, 677, "#b0e8e0"]].forEach(([s, x, y, c]) => {
    ctx.fillStyle = c;
    ctx.beginPath(); ctx.ellipse(zx(x), zy(y), 17.5, 8.3, 0, 0, Math.PI * 2); ctx.fill();
    zt(s, x, y, { bold: true, size: 8.8, color: "#234f49" });
  });
  const big = { size: 9.2, color: "#555" }, sm = { size: 5.6, color: "#555" }, nad = { size: 6.2, color: "#444" };
  zt("Very long fatty acid", 510, 430, { bold: true, size: 8.2, color: "#333" });
  zt("elongation cycle", 510, 478, { bold: true, size: 8.2, color: "#333" });
  zt("\u03b2-Hydroxyacyl-CoA", 490, 210, big); zt("Enoyl-CoA", 740, 430, big);
  zt("\u03b2-Ketoacyl-CoA", 228, 510, big); zt("Acyl-CoA", 488, 908, big);
  zt("C (n)", 410, 870, { size: 6.6, color: "#444" }); zt("C (n+2)", 647, 866, { size: 6.6, color: "#444" });
  // structures
  zt("CoA", 392, 163, sm); zt("S", 462, 163, sm); zt("R", 597, 163, sm); zt("O", 498, 105, sm); zt("OH", 563, 103, sm);
  zl([[418, 162], [452, 162]]); zl([[470, 155], [500, 140], [528, 158], [560, 142], [590, 160]]);
  zl([[497, 140], [497, 115]]); zl([[503, 140], [503, 115]]); zl([[560, 142], [560, 115]]);
  zt("R", 678, 467, sm); zt("S", 812, 465, sm); zt("CoA", 885, 463, sm); zt("O", 778, 525, sm);
  zl([[690, 470], [712, 482], [742, 462], [772, 480], [803, 465]]); zl([[716, 474], [740, 458]]);
  zl([[830, 463], [862, 463]]); zl([[769, 480], [769, 510]]); zl([[775, 480], [775, 510]]);
  zt("CoA", 140, 473, sm); zt("S", 208, 473, sm); zt("R", 345, 475, sm); zt("O", 248, 415, sm); zt("O", 305, 415, sm);
  zl([[170, 473], [200, 473]]); zl([[218, 465], [248, 450], [275, 470], [305, 450], [335, 470]]);
  zl([[245, 450], [245, 425]]); zl([[251, 450], [251, 425]]); zl([[302, 450], [302, 425]]); zl([[308, 450], [308, 425]]);
  zt("CoA", 297, 835, sm); zt("S", 367, 835, sm); zt("R", 443, 833, sm); zt("O", 405, 775, sm);
  zl([[325, 835], [360, 835]]); zl([[377, 830], [405, 812], [435, 830]]); zl([[402, 812], [402, 785]]); zl([[408, 812], [408, 785]]);
  zt("CoA", 552, 838, sm); zt("S", 618, 838, sm); zt("R", 748, 838, sm); zt("O", 655, 775, sm);
  zl([[580, 838], [610, 838]]); zl([[628, 830], [657, 812], [685, 830], [715, 812], [740, 830]]); zl([[652, 812], [652, 785]]); zl([[658, 812], [658, 785]]);
  // cycle arrows
  zc(600, 225, 700, 280, 740, 395); zc(685, 190, 680, 310, 778, 345); zt("H\u2082O", 810, 340, nad);
  zc(745, 515, 710, 650, 575, 703); zc(790, 578, 670, 600, 680, 725); zc(610, 695, 612, 720, 625, 733);
  zt("NADPH", 835, 580, nad); zt("NADP\u207a", 725, 750, nad);
  zc(415, 705, 310, 650, 245, 540); zc(330, 715, 325, 610, 205, 603); zc(388, 735, 385, 690, 360, 680);
  zt("CO\u2082", 162, 603, nad); zt("Malonyl-CoA", 237, 747, nad);
  zc(240, 390, 270, 285, 370, 230); zc(190, 347, 280, 355, 297, 207);
  zt("NADPH", 150, 340, nad); zt("NADP\u207a", 285, 187, nad);
}

new Chart(addCanvas(0, 0, 1080, 873), {
  type: "scatter",
  data: { datasets: [] },
  options: {
    ...baseOptions,
    scales: { x: { display: false, min: 0, max: 1080 }, y: { display: false, min: 0, max: 873 } }
  },
  plugins: [{ id: "diagram", afterDraw: c => drawOverlay(c.ctx) }]
});
</script>
</body>
</html>
